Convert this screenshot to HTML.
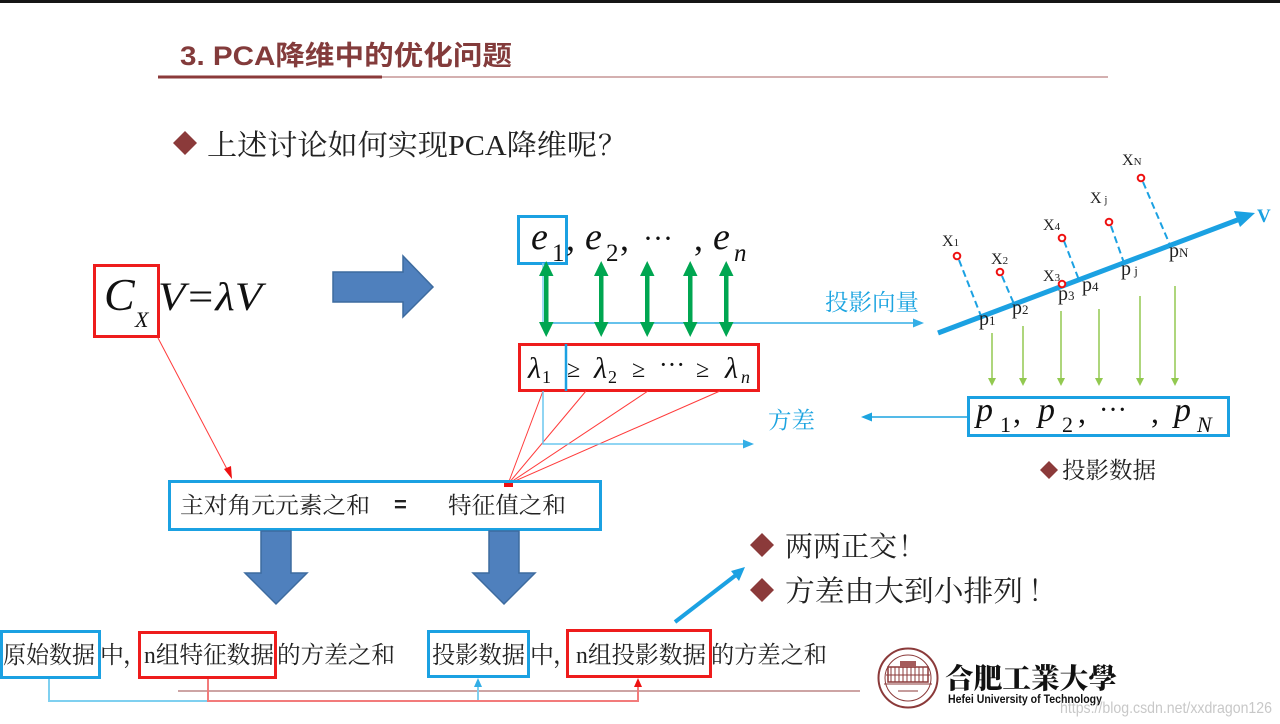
<!DOCTYPE html>
<html><head><meta charset="utf-8"><style>
html,body{margin:0;padding:0;background:#fff;}
svg{display:block;}
.s{font-family:"Liberation Serif","Noto Serif CJK SC",serif;}
.cj{font-family:"Noto Serif CJK SC",serif;}
.ss{font-family:"Liberation Sans","Noto Sans CJK SC",sans-serif;}
.m{font-family:"Liberation Serif",serif;font-style:italic;}
.mu{font-family:"Liberation Serif",serif;}
</style></head><body>
<svg width="1280" height="724" viewBox="0 0 1280 724" xmlns="http://www.w3.org/2000/svg">
<rect x="0" y="0" width="1280" height="724" fill="#fff"/>
<rect x="0" y="0" width="1280" height="3" fill="#151515"/>

<!-- Title -->
<text x="180" y="65" class="ss" font-size="27" font-weight="bold" fill="#833b3b" textLength="332" lengthAdjust="spacingAndGlyphs">3. PCA降维中的优化问题</text>
<rect x="158" y="75.5" width="224" height="3" fill="#8b3a3a"/>
<line x1="382" y1="77" x2="1108" y2="77" stroke="#a86060" stroke-width="1"/>

<!-- Bullet 1 -->
<polygon points="185,131 197,143 185,155 173,143" fill="#8b3a3a"/>
<text x="207" y="155" class="s" font-size="29" fill="#222" textLength="390" lengthAdjust="spacingAndGlyphs">上述讨论如何实现PCA降维呢</text>
<text x="598" y="155" class="cj" font-size="28" fill="#222">？</text>

<!-- Formula -->
<rect x="94.5" y="265.5" width="64" height="71" fill="none" stroke="#ee1c1c" stroke-width="3"/>
<text x="104" y="310" class="m" font-size="46" fill="#111">C</text>
<text x="135" y="327" class="m" font-size="22" fill="#111">X</text>
<text x="158" y="310" class="m" font-size="40" fill="#111" textLength="104" lengthAdjust="spacingAndGlyphs">V=λV</text>

<!-- Big right arrow -->
<polygon points="333,272 403,272 403,256 433,287 403,317 403,302 333,302" fill="#4f80bd" stroke="#3d6b9f" stroke-width="1.5"/>

<!-- e row -->
<rect x="518.5" y="216.5" width="48" height="47" fill="none" stroke="#1ba1e2" stroke-width="3"/>
<text x="531" y="249" class="m" font-size="38" fill="#111">e</text>
<text x="552" y="261" class="mu" font-size="25" fill="#111">1</text>
<text x="566" y="250" class="mu" font-size="36" fill="#111">,</text>
<text x="585" y="249" class="m" font-size="38" fill="#111">e</text>
<text x="606" y="261" class="mu" font-size="25" fill="#111">2</text>
<text x="620" y="250" class="mu" font-size="36" fill="#111">,</text>
<text x="643" y="248" class="mu" font-size="30" fill="#111">···</text>
<text x="694" y="250" class="mu" font-size="36" fill="#111">,</text>
<text x="713" y="249" class="m" font-size="38" fill="#111">e</text>
<text x="734" y="261" class="m" font-size="25" fill="#111">n</text>

<!-- blue lines near green arrows -->
<line x1="543" y1="263" x2="543" y2="323" stroke="#7fd0f0" stroke-width="1.5"/>
<line x1="543" y1="323" x2="915" y2="323" stroke="#33aee6" stroke-width="1.5"/>
<polygon points="924,323 913,318.5 913,327.5" fill="#33aee6"/>
<text x="825" y="310" class="s" font-size="23" fill="#1ca4e0" textLength="94" lengthAdjust="spacingAndGlyphs">投影向量</text>

<!-- Green double arrows -->
<g fill="#00a651" stroke="none">
<rect x="544" y="274" width="4.5" height="50"/><polygon points="546.2,261 539,276 553.5,276"/><polygon points="546.2,337 539,322 553.5,322"/>
<rect x="599" y="274" width="4.5" height="50"/><polygon points="601.2,261 594,276 608.5,276"/><polygon points="601.2,337 594,322 608.5,322"/>
<rect x="645" y="274" width="4.5" height="50"/><polygon points="647.2,261 640,276 654.5,276"/><polygon points="647.2,337 640,322 654.5,322"/>
<rect x="688" y="274" width="4.5" height="50"/><polygon points="690.2,261 683,276 697.5,276"/><polygon points="690.2,337 683,322 697.5,322"/>
<rect x="724" y="274" width="4.5" height="50"/><polygon points="726.2,261 719,276 733.5,276"/><polygon points="726.2,337 719,322 733.5,322"/>
</g>

<!-- lambda box -->
<rect x="519.5" y="344.5" width="239" height="46" fill="none" stroke="#ee1c1c" stroke-width="3"/>
<line x1="566" y1="344" x2="566" y2="391" stroke="#1ba1e2" stroke-width="2.5"/>
<text x="528" y="378" class="m" font-size="30" fill="#111">λ</text>
<text x="542" y="383" class="mu" font-size="18" fill="#111">1</text>
<text x="567" y="377" class="mu" font-size="24" fill="#111">≥</text>
<text x="594" y="378" class="m" font-size="30" fill="#111">λ</text>
<text x="608" y="383" class="mu" font-size="18" fill="#111">2</text>
<text x="632" y="377" class="mu" font-size="24" fill="#111">≥</text>
<text x="659" y="373" class="mu" font-size="26" fill="#111">···</text>
<text x="696" y="377" class="mu" font-size="24" fill="#111">≥</text>
<text x="725" y="378" class="m" font-size="30" fill="#111">λ</text>
<text x="741" y="383" class="m" font-size="18" fill="#111">n</text>

<!-- red converging lines -->
<g stroke="#ff3b3b" stroke-width="1">
<line x1="543" y1="391" x2="508" y2="484"/>
<line x1="586" y1="391" x2="508" y2="484"/>
<line x1="648" y1="391" x2="508" y2="484"/>
<line x1="720" y1="391" x2="508" y2="484"/>
</g>
<rect x="504" y="481" width="9" height="6" fill="#ee1111"/>

<!-- blue L -->
<polyline points="543,391 543,444 745,444" fill="none" stroke="#6cc7ef" stroke-width="1.5"/>
<polygon points="754,444 743,439.5 743,448.5" fill="#33aee6"/>
<text x="768" y="428" class="s" font-size="23" fill="#1ca4e0" textLength="47" lengthAdjust="spacingAndGlyphs">方差</text>

<!-- left arrow from p box -->
<line x1="968" y1="417" x2="870" y2="417" stroke="#1ca4e0" stroke-width="1.5"/>
<polygon points="861,417 872,412.5 872,421.5" fill="#1ca4e0"/>

<!-- Right diagram -->
<line x1="938" y1="333" x2="1240" y2="219" stroke="#1ba1e2" stroke-width="5"/>
<polygon points="1255,213 1240,227 1234,211" fill="#1ba1e2"/>
<text x="1257" y="222" class="mu" font-size="19" font-weight="bold" fill="#1ba1e2">V</text>

<g stroke="#1ba1e2" stroke-width="2" stroke-dasharray="7,4">
<line x1="959" y1="260" x2="981" y2="316"/>
<line x1="1002" y1="276" x2="1014" y2="304"/>
<line x1="1064" y1="241" x2="1079" y2="280"/>
<line x1="1111" y1="226" x2="1124" y2="263"/>
<line x1="1143" y1="182" x2="1170" y2="245"/>
</g>
<g fill="#fff" stroke="#ee1111" stroke-width="2">
<circle cx="957" cy="256" r="3.3"/>
<circle cx="1000" cy="272" r="3.3"/>
<circle cx="1062" cy="284" r="3.3"/>
<circle cx="1062" cy="238" r="3.3"/>
<circle cx="1109" cy="222" r="3.3"/>
<circle cx="1141" cy="178" r="3.3"/>
</g>
<g class="mu" fill="#222" font-size="16">
<text x="942" y="246">X<tspan font-size="11">1</tspan></text>
<text x="991" y="264">X<tspan font-size="11">2</tspan></text>
<text x="1043" y="281">X<tspan font-size="11">3</tspan></text>
<text x="1043" y="230">X<tspan font-size="11">4</tspan></text>
<text x="1090" y="203">X<tspan font-size="11"> j</tspan></text>
<text x="1122" y="165">X<tspan font-size="11">N</tspan></text>
</g>
<g class="mu" fill="#222" font-size="20">
<text x="979" y="325">p<tspan font-size="13">1</tspan></text>
<text x="1012" y="314">p<tspan font-size="13">2</tspan></text>
<text x="1058" y="300">p<tspan font-size="13">3</tspan></text>
<text x="1082" y="291">p<tspan font-size="13">4</tspan></text>
<text x="1121" y="275">p<tspan font-size="13"> j</tspan></text>
<text x="1169" y="257">p<tspan font-size="13">N</tspan></text>
</g>

<!-- light green arrows -->
<g stroke="#92c950" stroke-width="1.5">
<line x1="992" y1="333" x2="992" y2="379"/>
<line x1="1023" y1="326" x2="1023" y2="379"/>
<line x1="1061" y1="311" x2="1061" y2="379"/>
<line x1="1099" y1="309" x2="1099" y2="379"/>
<line x1="1140" y1="296" x2="1140" y2="379"/>
<line x1="1175" y1="286" x2="1175" y2="379"/>
</g>
<g fill="#92c950">
<polygon points="992,386 988,378 996,378"/>
<polygon points="1023,386 1019,378 1027,378"/>
<polygon points="1061,386 1057,378 1065,378"/>
<polygon points="1099,386 1095,378 1103,378"/>
<polygon points="1140,386 1136,378 1144,378"/>
<polygon points="1175,386 1171,378 1179,378"/>
</g>

<!-- p box -->
<rect x="968.5" y="397.5" width="260" height="38" fill="none" stroke="#1ba1e2" stroke-width="3"/>
<text x="976" y="421" class="m" font-size="34" fill="#111">p</text>
<text x="1000" y="432" class="mu" font-size="22" fill="#111">1</text>
<text x="1013" y="423" class="mu" font-size="32" fill="#111">,</text>
<text x="1038" y="421" class="m" font-size="34" fill="#111">p</text>
<text x="1062" y="432" class="mu" font-size="22" fill="#111">2</text>
<text x="1078" y="423" class="mu" font-size="32" fill="#111">,</text>
<text x="1099" y="419" class="mu" font-size="28" fill="#111">···</text>
<text x="1151" y="423" class="mu" font-size="32" fill="#111">,</text>
<text x="1174" y="421" class="m" font-size="34" fill="#111">p</text>
<text x="1197" y="432" class="m" font-size="22" fill="#111">N</text>

<polygon points="1049,461 1058,470 1049,479 1040,470" fill="#8b3a3a"/>
<text x="1062" y="478" class="s" font-size="23" fill="#222" textLength="94" lengthAdjust="spacingAndGlyphs">投影数据</text>

<!-- red arrow from Cx -->
<line x1="158" y1="338" x2="228" y2="471" stroke="#ff3b3b" stroke-width="1"/>
<polygon points="232,479 224,469 231,466" fill="#ee1111"/>

<!-- main box -->
<rect x="169.5" y="481.5" width="431" height="48" fill="none" stroke="#1ba1e2" stroke-width="3"/>
<text x="180" y="513" class="s" font-size="23" fill="#222" textLength="190" lengthAdjust="spacingAndGlyphs">主对角元元素之和</text>
<text x="394" y="512" class="ss" font-size="22" font-weight="bold" fill="#222">=</text>
<text x="448" y="513" class="s" font-size="23" fill="#222" textLength="118" lengthAdjust="spacingAndGlyphs">特征值之和</text>

<!-- down arrows -->
<polygon points="261,531 291,531 291,573 307,573 276,604 245,573 261,573" fill="#4f80bd" stroke="#3d6b9f" stroke-width="1.5"/>
<polygon points="489,531 519,531 519,573 535,573 504,604 473,573 489,573" fill="#4f80bd" stroke="#3d6b9f" stroke-width="1.5"/>

<!-- right bullets -->
<line x1="675" y1="622" x2="736" y2="575" stroke="#1ba1e2" stroke-width="4"/>
<polygon points="745,567 731,571 739,581" fill="#1ba1e2"/>
<polygon points="762,533 774,545 762,557 750,545" fill="#8b3a3a"/>
<text x="785" y="556" class="s" font-size="28" fill="#222" textLength="112" lengthAdjust="spacingAndGlyphs">两两正交</text>
<text x="898" y="556" class="cj" font-size="28" fill="#222">！</text>
<polygon points="762,578 774,590 762,602 750,590" fill="#8b3a3a"/>
<text x="785" y="601" class="s" font-size="29" fill="#222" textLength="238" lengthAdjust="spacingAndGlyphs">方差由大到小排列</text>
<text x="1028" y="601" class="cj" font-size="29" fill="#222">！</text>

<!-- bottom row -->
<line x1="178" y1="691" x2="860" y2="691" stroke="#9b4a4a" stroke-width="1"/>
<polyline points="49,678 49,701 478,701 478,686" fill="none" stroke="#7fd0f0" stroke-width="2"/>
<polygon points="478,678 474,687 482,687" fill="#33aee6"/>
<polyline points="208,678 208,701 638,701 638,686" fill="none" stroke="#f27b7b" stroke-width="2"/>
<polygon points="638,678 634,687 642,687" fill="#ee1111"/>

<rect x="1.5" y="631.5" width="98" height="46" fill="none" stroke="#1ba1e2" stroke-width="3"/>
<rect x="139.5" y="632.5" width="136" height="45" fill="none" stroke="#ee1c1c" stroke-width="3"/>
<rect x="428.5" y="631.5" width="100" height="45" fill="none" stroke="#1ba1e2" stroke-width="3"/>
<rect x="567.5" y="630.5" width="143" height="46" fill="none" stroke="#ee1c1c" stroke-width="3"/>

<g class="s" font-size="24" fill="#222">
<text x="3" y="663" textLength="92" lengthAdjust="spacingAndGlyphs">原始数据</text>
<text x="100" y="663">中</text>
<text x="123" y="663" class="cj">，</text>
<text x="144" y="663" textLength="130" lengthAdjust="spacingAndGlyphs">n组特征数据</text>
<text x="277" y="663" textLength="118" lengthAdjust="spacingAndGlyphs">的方差之和</text>
<text x="432" y="663" textLength="93" lengthAdjust="spacingAndGlyphs">投影数据</text>
<text x="530" y="663">中</text>
<text x="553" y="663" class="cj">，</text>
<text x="576" y="663" textLength="130" lengthAdjust="spacingAndGlyphs">n组投影数据</text>
<text x="711" y="663" textLength="116" lengthAdjust="spacingAndGlyphs">的方差之和</text>
</g>

<!-- logo -->
<g>
<circle cx="908" cy="678" r="29.5" fill="#fff" stroke="#8b3a3a" stroke-width="2"/>
<circle cx="908" cy="678" r="23" fill="none" stroke="#8b3a3a" stroke-width="1"/>
<rect x="888" y="667" width="40" height="15" fill="none" stroke="#8b3a3a" stroke-width="1.5"/>
<rect x="900" y="661" width="16" height="7" fill="#a45a5a"/>
<g stroke="#8b3a3a" stroke-width="1">
<line x1="891" y1="667" x2="891" y2="682"/><line x1="895" y1="667" x2="895" y2="682"/><line x1="899" y1="667" x2="899" y2="682"/>
<line x1="903" y1="667" x2="903" y2="682"/><line x1="907" y1="667" x2="907" y2="682"/><line x1="911" y1="667" x2="911" y2="682"/>
<line x1="915" y1="667" x2="915" y2="682"/><line x1="919" y1="667" x2="919" y2="682"/><line x1="923" y1="667" x2="923" y2="682"/>
<line x1="886" y1="675" x2="930" y2="675"/><line x1="884" y1="684" x2="932" y2="684"/>
</g>
<line x1="898" y1="691" x2="918" y2="691" stroke="#8b3a3a" stroke-width="1"/>
</g>
<text x="945" y="688" class="cj" font-size="28" font-weight="900" fill="#111" textLength="172" lengthAdjust="spacingAndGlyphs">合肥工業大學</text>
<text x="948" y="703" class="ss" font-size="12" font-weight="bold" fill="#111" textLength="154" lengthAdjust="spacingAndGlyphs">Hefei University of Technology</text>
<text x="1060" y="713" class="ss" font-size="16" fill="#c8c8c8" textLength="212" lengthAdjust="spacingAndGlyphs">https://blog.csdn.net/xxdragon126</text>
</svg>
</body></html>
